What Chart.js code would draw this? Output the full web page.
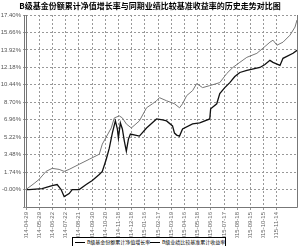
<!DOCTYPE html>
<html>
<head>
<meta charset="utf-8">
<script src="https://cdn.jsdelivr.net/npm/chart.js@4/dist/chart.umd.min.js"></script>
<style>
    html, body { margin: 0; padding: 0; background: #fff; }
    #wrap { position: relative; width: 300px; height: 246px; overflow: hidden; }
    #box { position: absolute; left: 0; top: 0; width: 300px; height: 238px; }
    #title {
        position: absolute; left: 0; top: 1px; width: 300px; text-align: center;
        font-family: "Noto Sans CJK SC", sans-serif; font-size: 8px; font-weight: bold;
        line-height: 10px; color: #000; white-space: nowrap;
    }
    #legend {
        position: absolute; left: 72px; top: 237px; width: 152px; height: 10px;
        border: 1px solid #000; background: #fff;
        font-family: "Noto Sans CJK SC", sans-serif; font-size: 5px; line-height: 8px;
        white-space: nowrap; color: #000;
    }
    #legend span.item { display: inline-block; width: 75px; }
    #legend i { display: inline-block; width: 10px; vertical-align: middle; margin: 0 2px 0 2px; }
</style>
</head>
<body>
<div id="wrap">
    <div id="box"><canvas id="c"></canvas></div>
    <div id="title">B级基金份额累计净值增长率与同期业绩比较基准收益率的历史走势对比图</div>
    <div id="legend">
        <span class="item"><i style="border-top:1.5px solid #000"></i>B级基金份额累计净值增长率</span><span class="item"><i style="border-top:1px solid #000"></i>B级业绩比较基准累计收益率</span>
    </div>
</div>
<script>
// 横轴日期刻度
const dateLabels = ['2014-04-29', '2014-05-29', '2014-06-22', '2014-07-22', '2014-08-21',
    '2014-09-30', '2014-10-20', '2014-11-18', '2014-12-18', '2015-01-16', '2015-02-17',
    '2015-03-19', '2015-04-16', '2015-05-18', '2015-06-16', '2015-07-17', '2015-08-18',
    '2015-09-15', '2015-10-15', '2015-11-14', '2015-12-14'];

// B级基金份额累计净值增长率 (x 为刻度序号位置, y 为 %)
const fundX = [0, 0.23, 1.22, 1.98, 2.36, 2.66, 2.89, 3.27, 3.50, 4.03, 4.56, 5.02, 5.55, 5.78,
    6.08, 6.31, 6.54, 6.77, 6.92, 7.00, 7.15, 7.30, 7.45, 7.60, 7.76, 7.91, 8.59, 9.13, 9.89,
    10.34, 10.65, 11.10, 11.25, 11.41, 11.63, 11.86, 12.62, 13.16, 13.92, 13.99, 14.45, 14.68,
    15.06, 15.44, 15.82, 16.20, 16.73, 17.72, 18.10, 18.48, 18.71, 19.24, 19.47, 20.23, 20.53];
const fundY = [0, 0, 0.10, 0.40, 0.50, 0, -0.70, -0.40, 0, 0, 0.50, 0.91, 1.51, 1.81,
    3.02, 4.12, 5.63, 6.84, 6.04, 5.13, 6.64, 6.04, 4.83, 3.82, 5.03, 5.53, 5.33, 6.14, 7.04,
    6.94, 6.84, 6.34, 5.63, 5.43, 5.33, 6.04, 6.54, 6.64, 7.04, 8.05, 8.55, 9.56,
    10.16, 10.66, 11.27, 11.67, 11.87, 12.17, 12.47, 12.88, 12.68, 12.37, 13.08, 13.58, 13.88];

// B级业绩比较基准累计收益率
const benchX = [0, 0.61, 0.99, 1.52, 1.98, 2.51, 2.89, 3.27, 4.03, 4.79, 5.55, 5.78, 6.46, 6.69,
    7.07, 7.30, 7.60, 7.98, 8.59, 9.13, 9.58, 9.89, 10.11, 10.65, 11.25, 11.63, 11.86, 12.17,
    12.62, 12.93, 13.38, 13.92, 14.68, 15.21, 15.67, 16.20, 16.73, 17.49, 17.95, 18.48, 18.71,
    19.01, 19.47, 20.00, 20.38, 20.53];
const benchY = [0, 0.60, 1.01, 1.81, 2.11, 2.01, 1.81, 2.01, 2.52, 3.02, 3.52, 4.53, 6.14, 7.14,
    7.34, 7.14, 6.54, 6.14, 6.84, 8.15, 8.55, 8.85, 9.16, 8.85, 8.55, 8.15, 8.55, 9.36,
    9.86, 10.56, 10.16, 10.36, 10.66, 11.57, 12.17, 12.68, 13.18, 13.58, 14.09, 14.69, 14.89,
    14.39, 14.69, 15.39, 16.20, 16.90];

// 纵轴刻度
const yMin = -1.74, yMax = 17.40, yStep = 1.74;

function toPoints(xs, ys) {
    return xs.map((x, i) => ({ x: x, y: ys[i] }));
}

// 左、下、右侧实线边框
const frame = {
    id: 'frame',
    afterDatasetsDraw(chart) {
        const a = chart.chartArea, c = chart.ctx;
        const l = Math.round(a.left) + 0.5, r = Math.round(a.right) + 0.5, b = Math.round(a.bottom) + 0.5;
        c.save();
        c.strokeStyle = '#777';
        c.lineWidth = 1;
        c.beginPath();
        c.moveTo(r, a.top); c.lineTo(r, b);
        c.moveTo(l - 2, a.top); c.lineTo(l - 2, b);
        c.moveTo(l, a.top); c.lineTo(l, b); c.lineTo(r, b);
        c.stroke();
        c.restore();
    }
};

const tickFont = { family: '"Liberation Sans", Arial, sans-serif', size: 6 };

new Chart(document.getElementById('c'), {
    type: 'line',
    data: {
        datasets: [
            {
                label: 'B级基金份额累计净值增长率',
                data: toPoints(fundX, fundY),
                borderColor: '#111',
                borderWidth: 1.3,
                pointRadius: 0,
                tension: 0
            },
            {
                label: 'B级业绩比较基准累计收益率',
                data: toPoints(benchX, benchY),
                borderColor: '#777',
                borderWidth: 1,
                pointRadius: 0,
                tension: 0
            }
        ]
    },
    options: {
        responsive: true,
        maintainAspectRatio: false,
        animation: false,
        layout: { padding: { left: 0, right: 3, top: 15, bottom: 0 } },
        plugins: {
            legend: { display: false },
            tooltip: { enabled: false },
            title: { display: false }
        },
        scales: {
            x: {
                type: 'linear',
                min: 0,
                max: 20.53,
                afterBuildTicks: s => { s.ticks = s.ticks.filter(t => Number.isInteger(t.value)); },
                afterFit: s => { s.height = 31; },
                ticks: {
                    stepSize: 1,
                    autoSkip: false,
                    maxRotation: 90,
                    minRotation: 90,
                    padding: 2,
                    color: '#666',
                    font: tickFont,
                    callback: v => dateLabels[v] || ''
                },
                grid: { color: '#999', lineWidth: 1, tickLength: 3 },
                border: { display: false, dash: [2, 2] }
            },
            y: {
                min: yMin,
                max: yMax,
                afterFit: s => { s.width = 26; },
                ticks: {
                    stepSize: yStep,
                    color: '#555',
                    padding: 2,
                    font: tickFont,
                    callback: v => v < -0.01 ? '' : v.toFixed(2) + '%'
                },
                grid: { color: '#999', lineWidth: 1, tickLength: 3 },
                border: { display: false, dash: [2, 2] }
            }
        }
    },
    plugins: [frame]
});
</script>
</body>
</html>
